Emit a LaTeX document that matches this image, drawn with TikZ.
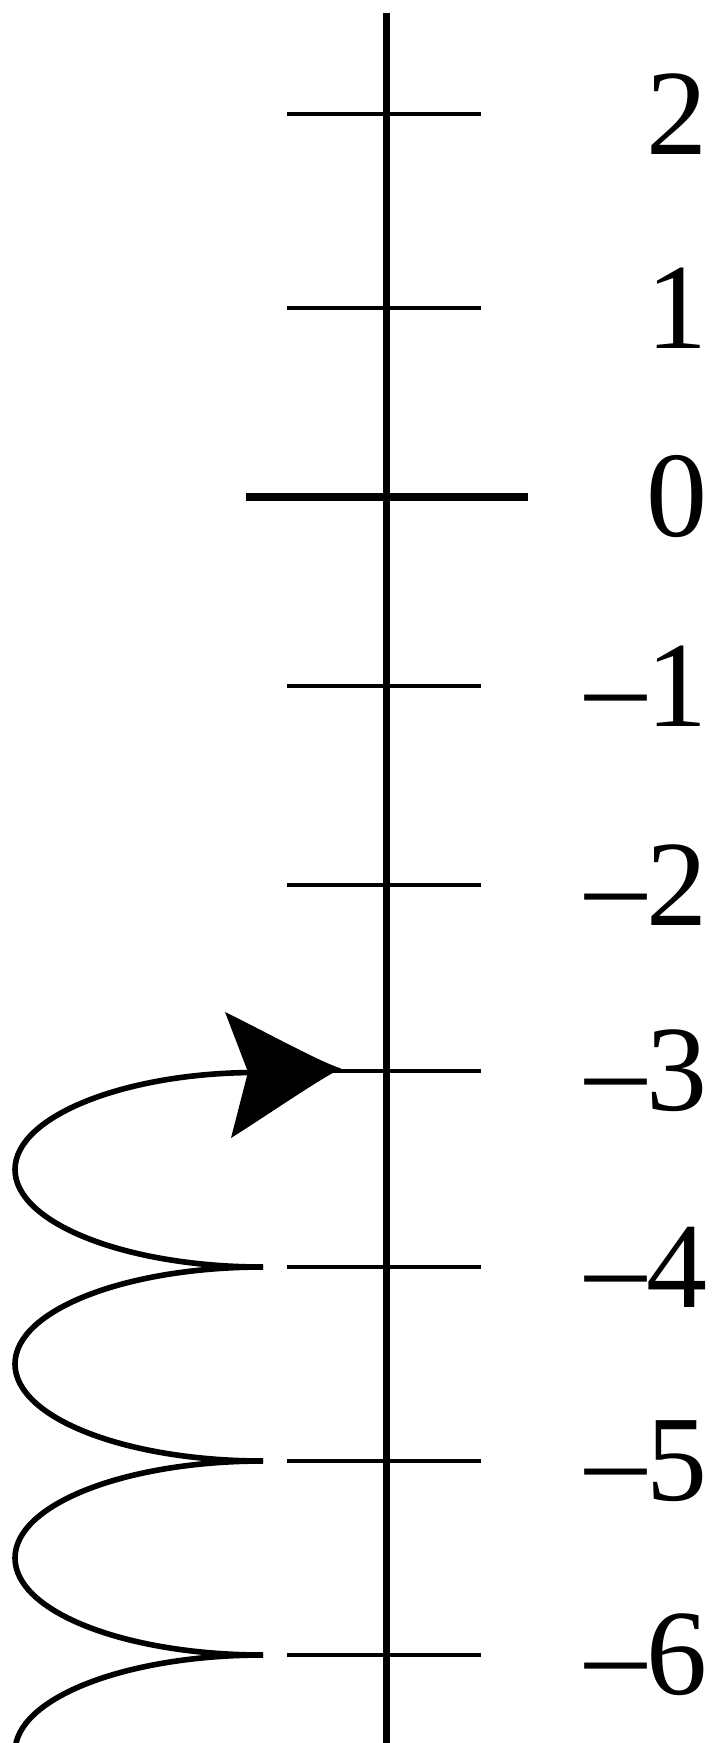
\documentclass[tikz,border=0pt]{standalone}
\usepackage{fontspec}
\setmainfont{Liberation Serif}
\usetikzlibrary{arrows.meta}
\begin{document}
\begin{tikzpicture}[x=1pt,y=-1pt,
  axisline/.style={line width=7pt},
  minortick/.style={line width=3.8pt},
  majortick/.style={line width=8pt},
  spiral/.style={line width=5.6pt, line cap=butt},
  headfill/.style={fill=black, draw=none},
  lab/.style={anchor=west, inner sep=0pt, font=\fontsize{122}{122}\selectfont}]
\useasboundingbox (0,0) rectangle (714,1743);
\clip (0,0) rectangle (714,1743);
% axis
\coordinate (top) at (386,13);
\coordinate (bot) at (386,1743);
\draw[axisline] (top) -- (bot);
% ticks
\foreach \y/\n in {114/p2,308/p1,686/m1,885/m2,1071/m3,1267/m4,1461/m5,1655/m6}{
  \coordinate (l\n) at (287,\y);
  \coordinate (r\n) at (481,\y);
  \draw[minortick] (l\n) -- (r\n);
}
\coordinate (lz) at (246,497);
\coordinate (rz) at (528,497);
\draw[majortick] (lz) -- (rz);
% labels
\node[lab] (t2) at (646,114) {2};
\node[lab] (t1) at (646,308) {1};
\node[lab] (t0) at (646,497) {0};
\node[lab] (tm1) at (646,686) {\llap{–}1};
\node[lab] (tm2) at (646,885) {\llap{–}2};
\node[lab] (tm3) at (646,1071) {\llap{–}3};
\node[lab] (tm4) at (646,1267) {\llap{–}4};
\node[lab] (tm5) at (646,1461) {\llap{–}5};
\node[lab] (tm6) at (646,1655) {\llap{–}6};
% spiral
\coordinate (s7) at (15,1752);
\coordinate (s6) at (263,1655);
\coordinate (s5) at (263,1461);
\coordinate (s4) at (263,1267);
\coordinate (e3) at (256,1072.5);
\coordinate (tip) at (341,1068.5);
\coordinate (cu) at (225,1012);
\coordinate (notch) at (248,1072);
\coordinate (cl) at (231,1138);
\draw[spiral] (s7) .. controls (15,1698) and (126,1655) .. (s6);
\draw[spiral] (s6) .. controls (126,1655) and (15,1612) .. (15,1558)
  .. controls (15,1504) and (126,1461) .. (s5);
\draw[spiral] (s5) .. controls (126,1461) and (15,1418) .. (15,1364)
  .. controls (15,1310) and (126,1267) .. (s4);
\draw[spiral] (s4) .. controls (126,1267) and (15,1223) .. (15,1169.5)
  .. controls (15,1116) and (126,1072.5) .. (e3);
% arrowhead
\fill[headfill] (tip) .. controls (318,1061) and (264,1031) .. (cu)
  -- (notch) -- (cl) .. controls (266,1116) and (318,1080) .. (tip) -- cycle;
\end{tikzpicture}
\end{document}
